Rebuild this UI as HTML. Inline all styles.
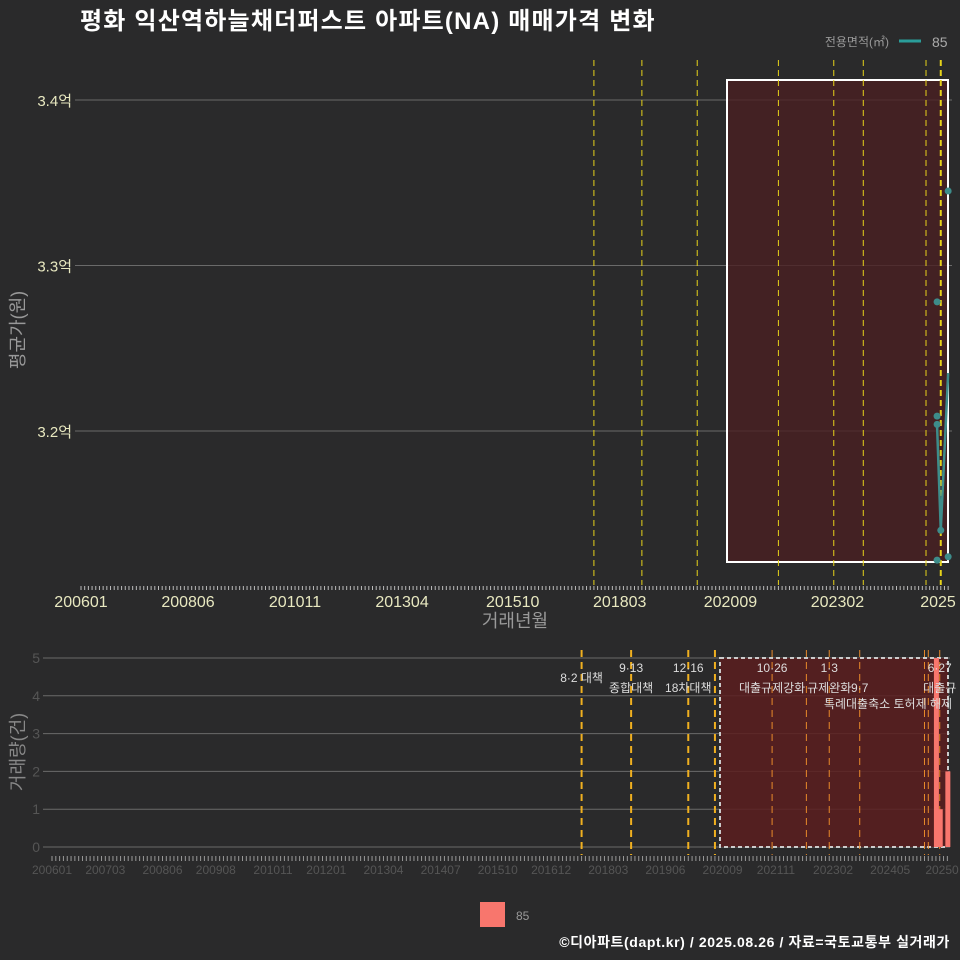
<!DOCTYPE html>
<html><head><meta charset="utf-8">
<style>
body{margin:0;background:#2a2a2b;}
svg{display:block;font-family:"Liberation Sans","Noto Sans CJK KR",sans-serif;}
</style></head>
<body>
<svg id="c" width="960" height="960" viewBox="0 0 960 960">
<rect width="960" height="960" fill="#2a2a2b"/>
<text x="80" y="29" fill="#fff" font-size="24" font-weight="bold" letter-spacing="1.2">평화 익산역하늘채더퍼스트 아파트(NA) 매매가격 변화</text>
<g>
<text x="889" y="46" fill="#999" font-size="12" text-anchor="end">전용면적(㎡)</text>
<line x1="899" y1="41" x2="921" y2="41" stroke="#2a9d9a" stroke-width="3"/>
<text x="932" y="47" fill="#aaa" font-size="14">85</text>
</g>
<g id="main"></g>
<g id="vol"></g>
<text transform="translate(24,330) rotate(-90)" fill="#999" font-size="18" text-anchor="middle">평균가(원)</text>
<text x="515" y="627" fill="#999" font-size="18" text-anchor="middle">거래년월</text>
<text transform="translate(24,752) rotate(-90)" fill="#888" font-size="18" text-anchor="middle">거래량(건)</text>
<g>
<rect x="480" y="902" width="25" height="25" fill="#f8766d"/>
<text x="516" y="920" fill="#999" font-size="12">85</text>
</g>
<text x="950" y="947" fill="#fff" font-size="14" font-weight="bold" letter-spacing="0.6" text-anchor="end">©디아파트(dapt.kr) / 2025.08.26 / 자료=국토교통부 실거래가</text>
</svg>
<script>
const priceMonths=[202505,202505,202505,202505,202506,202508,202508];
const priceValues=[3.278,3.209,3.204,3.122,3.14,3.345,3.124];
const lineMonths=[202505,202506,202508];
const lineValues=[3.203,3.14,3.235];
const volMonths=[202505,202506,202508];
const volValues=[5,1,2];
const mainTicks=["200601","200806","201011","201304","201510","201803","202009","202302","2025"];
const mainTickMonths=[200601,200806,201011,201304,201510,201803,202009,202302,202508];
const priceTicks=[3.2,3.3,3.4];
const priceTickLabels=["3.2억","3.3억","3.4억"];
const volTicks=[0,1,2,3,4,5];
const volXTicks=["200601","200703","200806","200908","201011","201201","201304","201407","201510","201612","201803","201906","202009","202111","202302","202405","20250"];
const volXTickMonths=[200601,200703,200806,200908,201011,201201,201304,201407,201510,201612,201803,201906,202009,202111,202302,202405,202508];
const mainPolicy=[201708,201809,201912,202110,202301,202309,202502,202506];
const policyMonths=[201708,201809,201912,202007,202110,202207,202301,202309,202502,202503,202506];
const policyLabels1=["8·2 대책","9·13","12·16","","10·26","","1·3","","","","6·27"];
const policyLabels2=["","종합대책","18차대책","","대출규제강화","","규제완화","9·7","","","대출규"];
const NS="http://www.w3.org/2000/svg";
function mi(ym){return Math.floor(ym/100)*12+(ym%100)-1-(2006*12);}
function xMain(ym){return 81+3.69*mi(ym);}
function yMain(v){return 431-(v-3.2)*1655;}
function xVol(ym){return 52+3.81*mi(ym);}
function yVol(v){return 847-v*37.8;}
function mk(tag,attrs,parent,text){const e=document.createElementNS(NS,tag);for(const k in attrs)e.setAttribute(k,attrs[k]);if(text!==undefined)e.textContent=text;parent.appendChild(e);return e;}
const main=document.getElementById('main');
const vol=document.getElementById('vol');
priceTicks.forEach((t,i)=>{
 const l=mk('line',{x1:75,x2:952,y1:yMain(t),y2:yMain(t),stroke:'#6a6a6a','stroke-width':1},main);
 
 
 const tx=mk('text',{x:72,y:yMain(t)+6,fill:'#e8e8c0','font-size':15,'text-anchor':'end'},main,priceTickLabels[i]);
 
 
});
const r=mk('rect',{x:727,y:80,width:221,height:482,fill:'#4a1f22','fill-opacity':0.8,stroke:'#fff','stroke-width':2},main);


mainPolicy.forEach((m,i)=>{
 const l=mk('line',{x1:xMain(m),x2:xMain(m),y1:60,y2:585,stroke:'#e6d21a','stroke-width':i==7?2:1,'stroke-dasharray':'6,4'},main);
 
 
});
for(let m=0;m<=235;m++){
 const l=mk('line',{x1:81+3.69*m,x2:81+3.69*m,y1:586,y2:590,stroke:'#bbb','stroke-width':1},main);
 
 
}
mainTicks.forEach((t,i)=>{
 const tx=mk('text',{x:Math.min(xMain(mainTickMonths[i]),938),y:607,fill:'#e8e8c0','font-size':16,'text-anchor':'middle'},main,t);
 
 
});
const pl=mk('polyline',{points:lineMonths.map((m,i)=>xMain(m)+','+yMain(lineValues[i])).join(' '),fill:'none',stroke:'#3d8c8a','stroke-width':2.5},main);


priceMonths.forEach((m,i)=>{
 const c=mk('circle',{cx:xMain(m),cy:yMain(priceValues[i]),r:3.5,fill:'#3d8c8a'},main);
 
 
});
volTicks.forEach(t=>{
 const l=mk('line',{x1:43,x2:950,y1:yVol(t),y2:yVol(t),stroke:'#6a6a6a','stroke-width':1},vol);
 
 
 const tx=mk('text',{x:40,y:yVol(t)+5,fill:'#555','font-size':14,'text-anchor':'end'},vol,String(t));
 
 
});
const r2=mk('rect',{x:720,y:658,width:228,height:189,fill:'#5a1d1f','fill-opacity':0.85,stroke:'#ccc','stroke-width':2,'stroke-dasharray':'4,3'},vol);


policyMonths.forEach((m,i)=>{
 const inside=m>=202009;
 const l=mk('line',{x1:xVol(m),x2:xVol(m),y1:650,y2:855,stroke:inside?'#e8892a':'#f0b020','stroke-width':inside?1:2,'stroke-dasharray':'7,5'},vol);
 
 
});
volMonths.forEach((m,i)=>{
 const b=mk('rect',{x:xVol(m)-2,y:yVol(volValues[i]),width:5,height:847-yVol(volValues[i]),fill:'#f8766d'},vol);
 
 
});
policyMonths.forEach((m,i)=>{
 if(policyLabels1[i]){
  const y=i==0?682:672;
  const t=mk('text',{x:xVol(m),y:y,fill:'#ddd','font-size':12,'text-anchor':'middle'},vol,policyLabels1[i]);
  
  
 }
 if(policyLabels2[i]){
  const t=mk('text',{x:xVol(m),y:692,fill:'#ddd','font-size':12,'text-anchor':'middle'},vol,policyLabels2[i]);
  
  
 }
});
const t3=mk('text',{x:888,y:708,fill:'#ddd','font-size':12,'text-anchor':'middle'},vol,"특례대출축소 토허제 해제");


for(let m=0;m<=235;m++){
 const l=mk('line',{x1:52+3.81*m,x2:52+3.81*m,y1:856,y2:861,stroke:'#999','stroke-width':1},vol);
 
 
}
volXTicks.forEach((t,i)=>{
 const tx=mk('text',{x:Math.min(xVol(volXTickMonths[i]),942),y:874,fill:'#555','font-size':12,'text-anchor':'middle'},vol,t);
 
 
});
</script>
</body></html>
